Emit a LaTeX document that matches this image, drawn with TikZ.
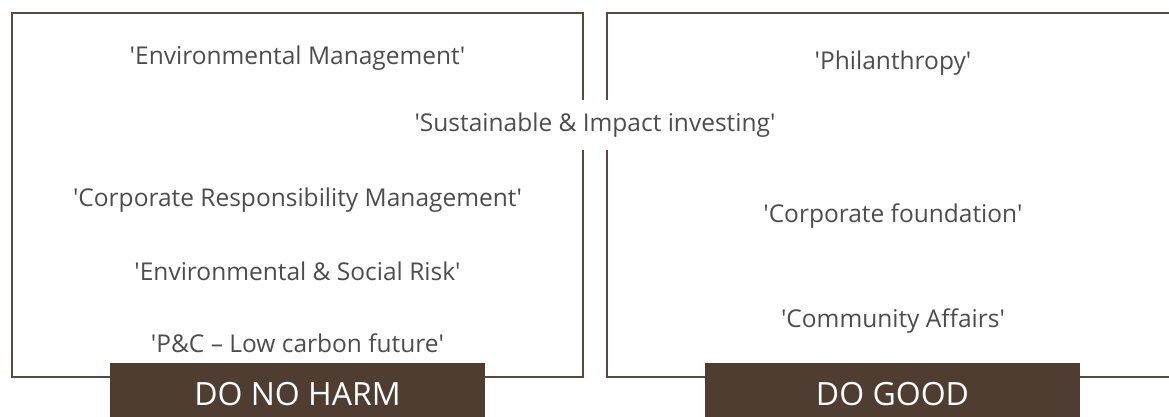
\documentclass[tikz,border=0pt]{standalone}
\usepackage{fontspec}
\setmainfont{Open Sans}
\usepackage{tikz}
\definecolor{frameclr}{HTML}{5A4A3E}
\definecolor{tagclr}{HTML}{503D31}
\definecolor{textclr}{HTML}{4D4D4D}
\newcommand{\quoted}[1]{\textquotesingle#1\textquotesingle}
\tikzset{
frame/.style={draw=frameclr,line width=2pt},
tag/.style={
  fill=tagclr,
  minimum width=375pt,
  minimum height=62pt,
  text=white,
  font=\fontsize{32}{34}\selectfont,
  anchor=north,
  text depth=0pt,
  inner sep=0pt
},
item/.style={
  text=textclr,
  yshift=-3pt,
  font=\fontsize{24.5}{27}\selectfont
}
}
\begin{document}
\begin{tikzpicture}[x=1pt,y=-1pt]
\useasboundingbox (0,0) rectangle (1169,416);
\clip (0,0) rectangle (1169,416);
% the two frames
\draw[frame] (12,13) rectangle (583,377);
\draw[frame] (607,13) rectangle (1185,377);
% left side
\node[item] (envman) at (297.5,55) {\quoted{Environmental Management}};
\node[item] (corpresp) at (297.5,197) {\quoted{Corporate Responsibility Management}};
\node[item] (envsoc) at (297.5,268) {\quoted{Environmental \& Social Risk}};
\node[item] (lowcarb) at (297.5,340) {\quoted{P\&C -- Low carbon future}};
% right side
\node[item] (phil) at (893,60) {\quoted{Philanthropy}};
\node[item] (corpfound) at (893,213) {\quoted{Corporate foundation}};
\node[item] (commaff) at (893,318) {\quoted{Community Affairs}};
% across both
\node[item,fill=white,minimum height=50pt,inner xsep=1pt] (susinv) at (595,122) {\quoted{Sustainable \& Impact investing}};
% the tags
\node[tag] (noharm) at (297.5,363) {DO NO HARM};
\node[tag] (dogood) at (892.5,363) {DO GOOD};
\end{tikzpicture}
\end{document}
